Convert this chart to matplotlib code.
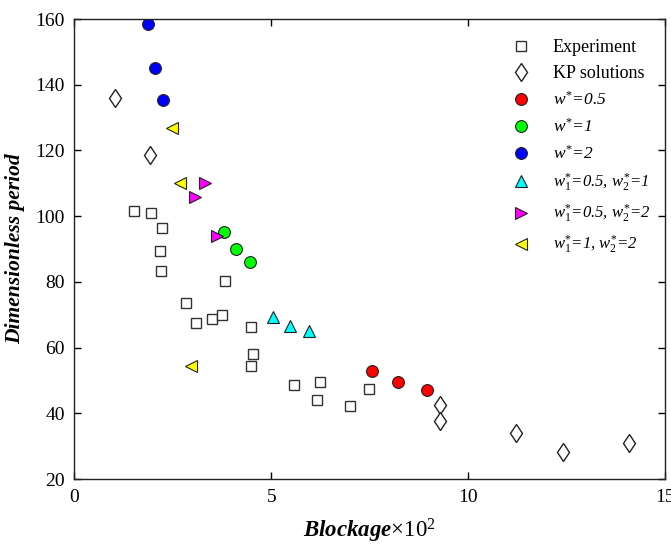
import matplotlib
matplotlib.use("Agg")
import matplotlib.pyplot as plt

plt.rcParams["font.family"] = ["Liberation Serif", "DejaVu Serif"]
plt.rcParams["mathtext.fontset"] = "custom"
plt.rcParams["mathtext.rm"] = "Liberation Serif"
plt.rcParams["mathtext.it"] = "Liberation Serif:italic"
plt.rcParams["mathtext.bf"] = "Liberation Serif:bold:italic"

# Experimental measurements
exp_x = [1.51, 1.95, 2.23, 2.17, 2.19, 3.83, 2.83, 3.09, 3.49, 3.76,
         4.49, 4.53, 4.48, 5.58, 6.24, 6.17, 6.99, 7.49]
exp_y = [101.6, 101.0, 96.3, 89.3, 83.4, 80.2, 73.7, 67.6, 68.6, 69.9,
         66.3, 58.0, 54.4, 48.6, 49.6, 44.1, 42.2, 47.5]

# KP solutions
kp_x = [1.02, 1.92, 9.28, 9.28, 11.21, 12.40, 14.08]
kp_y = [135.9, 118.5, 42.6, 37.6, 33.9, 28.3, 31.0]

# Single-width cases
w05_x = [7.57, 8.21, 8.95]
w05_y = [52.9, 49.5, 47.0]
w1_x = [3.79, 4.10, 4.47]
w1_y = [95.2, 90.0, 86.1]
w2_x = [1.88, 2.05, 2.24]
w2_y = [158.6, 145.2, 135.4]

# Two-width cases
w05_1_x = [5.05, 5.47, 5.97]
w05_1_y = [69.2, 66.6, 65.0]
w05_2_x = [3.32, 3.07, 3.61]
w05_2_y = [110.0, 105.7, 94.0]
w1_2_x = [2.48, 2.69, 2.95]
w1_2_y = [126.8, 110.0, 54.4]

fig = plt.figure(figsize=(6.71, 5.45), dpi=100)
ax = fig.add_axes([0.111, 0.121, 0.880, 0.844])

ax.plot(exp_x, exp_y, ls="none", marker="s", ms=7.5, mfc="white",
        mec="#333333", mew=1.0, label="Experiment")
ax.plot(kp_x, kp_y, ls="none", marker="d", ms=9.5, mfc="white",
        mec="#222222", mew=1.0, label="KP solutions")
ax.plot(w05_x, w05_y, ls="none", marker="o", ms=8.5, mfc="#ff0000",
        mec="#222222", mew=0.8, label=r"$w^{*}$=0.5")
ax.plot(w1_x, w1_y, ls="none", marker="o", ms=8.5, mfc="#00ff00",
        mec="#222222", mew=0.8, label=r"$w^{*}$=1")
ax.plot(w2_x, w2_y, ls="none", marker="o", ms=8.5, mfc="#0000ff",
        mec="#222222", mew=0.8, label=r"$w^{*}$=2")
ax.plot(w05_1_x, w05_1_y, ls="none", marker="^", ms=9, mfc="#00ffff",
        mec="#222222", mew=0.8,
        label=r"$w_{1}^{*}$=0.5, $w_{2}^{*}$=1")
ax.plot(w05_2_x, w05_2_y, ls="none", marker=">", ms=9, mfc="#ff00ff",
        mec="#222222", mew=0.8,
        label=r"$w_{1}^{*}$=0.5, $w_{2}^{*}$=2")
ax.plot(w1_2_x, w1_2_y, ls="none", marker="<", ms=9, mfc="#ffff00",
        mec="#222222", mew=0.8,
        label=r"$w_{1}^{*}$=1, $w_{2}^{*}$=2")

ax.set_xlim(0, 15)
ax.set_ylim(20, 160)
ax.set_xticks([0, 5, 10, 15])
ax.set_yticks(range(20, 161, 20))
ax.tick_params(direction="in", top=True, right=True, length=5,
               labelsize=14, pad=7, width=1.0)
for s in ax.spines.values():
    s.set_linewidth(1.0)
    s.set_color("#222222")

ax.set_xlabel(r"$\mathbf{Blockage}\mathrm{\times10^{2}}$", fontsize=16.5,
              labelpad=8)
ax.set_ylabel("Dimensionless period", fontsize=15.5, fontweight="bold",
              fontstyle="italic", labelpad=7)

leg = ax.legend(loc="upper left", frameon=False, fontsize=13,
                handletextpad=0.87, handlelength=1.8, labelspacing=0.5,
                borderaxespad=0.0, bbox_to_anchor=(0.716, 0.972))
for t in leg.get_texts()[2:]:
    t.set_fontstyle("italic")
    t.set_fontsize(12.5)
for t in leg.get_texts()[5:]:
    t.set_fontsize(12)

fig.savefig("out.png", dpi=100)
